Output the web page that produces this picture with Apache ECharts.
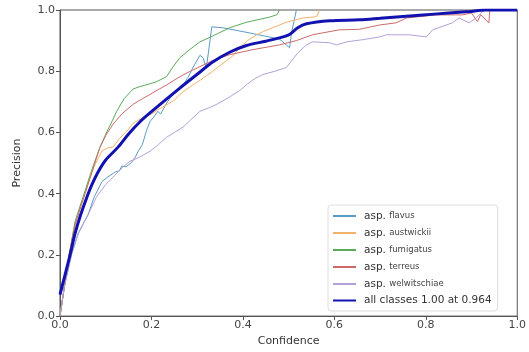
<!DOCTYPE html>
<html><head><meta charset="utf-8">
<script src="https://cdn.jsdelivr.net/npm/echarts@6/dist/echarts.min.js"></script>
<style>html,body{margin:0;padding:0;background:#fff}#c{width:529px;height:352px}</style>
</head><body><div id="c"></div>
<script>
const xTicks = [0, 0.2, 0.4, 0.6, 0.8, 1.0];
const yTicks = [0, 0.2, 0.4, 0.6, 0.8, 1.0];
const seriesNames = ['asp. flavus', 'asp. austwickii', 'asp. fumigatus', 'asp. terreus', 'asp. welwitschiae', 'all classes 1.00 at 0.964'];

const flavus = [[0,0],[0.01,0.1],[0.025,0.2],[0.04,0.27],[0.05,0.3],[0.061,0.33],[0.075,0.39],[0.092,0.44],[0.105,0.455],[0.12,0.47],[0.13,0.475],[0.135,0.49],[0.145,0.488],[0.157,0.503],[0.165,0.52],[0.17,0.536],[0.18,0.56],[0.19,0.61],[0.197,0.636],[0.205,0.65],[0.214,0.669],[0.22,0.66],[0.235,0.7],[0.245,0.72],[0.255,0.734],[0.266,0.747],[0.28,0.78],[0.29,0.81],[0.306,0.852],[0.313,0.844],[0.32,0.81],[0.332,0.945],[0.356,0.942],[0.415,0.925],[0.48,0.905],[0.502,0.877],[0.507,0.93],[0.517,1.0]];
const austwickii = [[0,0],[0.01,0.1],[0.02,0.2],[0.03,0.28],[0.045,0.36],[0.06,0.43],[0.075,0.49],[0.092,0.54],[0.105,0.55],[0.116,0.552],[0.13,0.58],[0.146,0.604],[0.16,0.63],[0.181,0.649],[0.2,0.66],[0.215,0.675],[0.233,0.69],[0.25,0.705],[0.262,0.724],[0.285,0.75],[0.306,0.77],[0.334,0.8],[0.36,0.83],[0.378,0.85],[0.393,0.877],[0.41,0.9],[0.43,0.919],[0.445,0.93],[0.465,0.942],[0.48,0.951],[0.495,0.96],[0.531,0.974],[0.561,0.978],[0.568,1.0]];
const fumigatus = [[0,0],[0.01,0.1],[0.02,0.2],[0.033,0.31],[0.055,0.41],[0.07,0.48],[0.087,0.55],[0.103,0.604],[0.115,0.64],[0.124,0.669],[0.14,0.71],[0.16,0.742],[0.175,0.75],[0.19,0.756],[0.21,0.765],[0.233,0.782],[0.245,0.81],[0.262,0.844],[0.285,0.872],[0.306,0.896],[0.334,0.915],[0.371,0.942],[0.408,0.96],[0.459,0.977],[0.475,0.985],[0.48,1.0]];
const terreus = [[0,0],[0.01,0.1],[0.02,0.2],[0.033,0.3],[0.055,0.4],[0.07,0.47],[0.087,0.55],[0.1,0.59],[0.116,0.627],[0.135,0.66],[0.16,0.692],[0.18,0.71],[0.197,0.724],[0.215,0.74],[0.233,0.755],[0.262,0.782],[0.285,0.8],[0.306,0.815],[0.334,0.835],[0.371,0.854],[0.42,0.87],[0.48,0.886],[0.517,0.9],[0.552,0.919],[0.61,0.935],[0.655,0.937],[0.699,0.951],[0.735,0.958],[0.758,0.974],[0.823,0.984],[0.88,0.984],[0.9,0.99],[0.913,0.962],[0.92,0.985],[0.938,0.958],[0.94,1.0]];
const welwitschiae = [[0,0],[0.01,0.1],[0.025,0.2],[0.04,0.27],[0.061,0.33],[0.08,0.39],[0.1,0.43],[0.12,0.46],[0.14,0.49],[0.153,0.506],[0.175,0.52],[0.197,0.539],[0.215,0.56],[0.233,0.584],[0.25,0.6],[0.269,0.617],[0.285,0.64],[0.306,0.669],[0.325,0.68],[0.343,0.692],[0.37,0.715],[0.393,0.737],[0.408,0.756],[0.425,0.775],[0.443,0.789],[0.47,0.8],[0.495,0.812],[0.52,0.86],[0.539,0.886],[0.552,0.896],[0.59,0.893],[0.605,0.886],[0.627,0.896],[0.662,0.903],[0.699,0.912],[0.714,0.919],[0.764,0.919],[0.801,0.912],[0.815,0.935],[0.858,0.958],[0.867,0.968],[0.873,0.974],[0.895,0.958],[0.91,0.974],[0.924,0.994],[0.93,1.0]];
const allClasses = [[0,0.07],[0.011,0.135],[0.022,0.2],[0.033,0.27],[0.045,0.33],[0.058,0.385],[0.07,0.43],[0.083,0.47],[0.1,0.51],[0.127,0.552],[0.15,0.595],[0.175,0.635],[0.2,0.668],[0.262,0.745],[0.3,0.79],[0.334,0.83],[0.371,0.862],[0.408,0.884],[0.45,0.898],[0.48,0.909],[0.502,0.92],[0.52,0.942],[0.539,0.955],[0.59,0.965],[0.655,0.968],[0.7,0.973],[0.786,0.983],[0.85,0.99],[0.895,0.995],[0.93,1.0],[1.0,1.0]];

const dataList = [flavus, austwickii, fumigatus, terreus, welwitschiae, allClasses];
const colors = ['#5b9bc4', '#f2b26a', '#5aab5a', '#cc6a6a', '#b3a0d8', '#1212b0'];

const chart = echarts.init(document.getElementById('c'), null, {renderer: 'canvas'});
const font = 'DejaVu Sans';
chart.setOption({
  animation: false,
  backgroundColor: '#fff',
  grid: {left: 60, right: 11, top: 10, bottom: 34, show: true, borderColor: '#555', borderWidth: 1},
  xAxis: {
    type: 'value', min: 0, max: 1, interval: 0.2,
    name: 'Confidence', nameLocation: 'middle', nameGap: 17,
    nameTextStyle: {fontFamily: font, fontSize: 11, color: '#333'},
    axisLine: {show: true, lineStyle: {color: '#555'}},
    axisTick: {show: true, length: 4, lineStyle: {color: '#555'}},
    splitLine: {show: false},
    axisLabel: {fontFamily: font, fontSize: 11, color: '#444', margin: 4,
      formatter: v => xTicks.includes(Math.round(v*10)/10) ? v.toFixed(1) : ''}
  },
  yAxis: {
    type: 'value', min: 0, max: 1, interval: 0.2,
    name: 'Precision', nameLocation: 'middle', nameGap: 37, nameRotate: 90,
    nameTextStyle: {fontFamily: font, fontSize: 11, color: '#333'},
    axisLine: {show: true, lineStyle: {color: '#555'}},
    axisTick: {show: true, length: 4, lineStyle: {color: '#555'}},
    splitLine: {show: false},
    axisLabel: {fontFamily: font, fontSize: 11, color: '#444', margin: 5,
      formatter: v => yTicks.includes(Math.round(v*10)/10) ? v.toFixed(1) : ''}
  },
  legend: {
    orient: 'vertical', left: 328, top: 205,
    padding: [5, 6, 5, 4], itemGap: 5, itemWidth: 23, itemHeight: 10,
    borderColor: '#ddd', borderWidth: 1, borderRadius: 3, backgroundColor: '#fff',
    itemStyle: {opacity: 0},
    data: seriesNames,
    formatter: name => {
      if (name.startsWith('asp. ')) return '{a|asp.} {b|' + name.slice(5) + '}';
      return '{c|' + name + '}';
    },
    textStyle: {
      padding: [0, 0, 0, 3],
      rich: {
        a: {fontFamily: font, fontSize: 10.5, color: '#333'},
        b: {fontFamily: font, fontSize: 8.5, color: '#444'},
        c: {fontFamily: font, fontSize: 10.5, color: '#333'}
      }
    }
  },
  series: dataList.map((d, i) => ({
    name: seriesNames[i], type: 'line', data: d,
    symbol: 'none', showSymbol: false,
    smooth: i === 5 ? 0.3 : false,
    z: i === 5 ? 10 : 2,
    lineStyle: {color: colors[i], width: i === 5 ? 3 : 1},
    itemStyle: {color: colors[i]}
  }))
});
</script></body></html>
